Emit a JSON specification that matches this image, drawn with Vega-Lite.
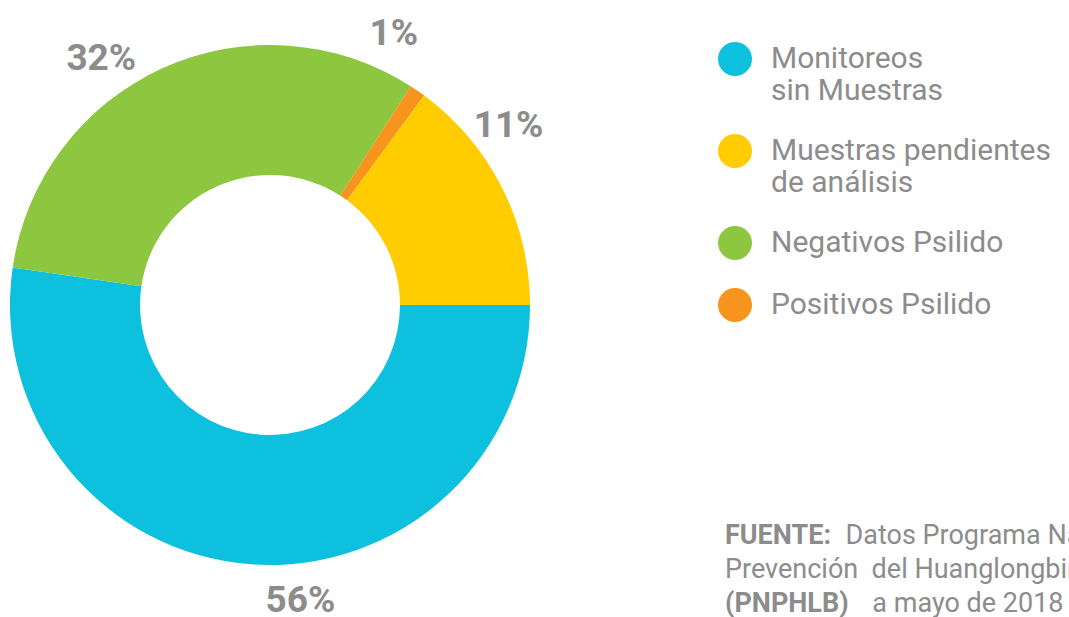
{
  "$schema": "https://vega.github.io/schema/vega-lite/v6.json",
  "width": 540,
  "height": 610,
  "autosize": "none",
  "padding": {"left": 0, "top": 0, "right": 529, "bottom": 7},
  "background": "white",
  "config": {"view": {"stroke": null}},
  "data": {
    "values": [
      {"categoria": "Monitoreos|sin Muestras", "valor": 52.3, "etiqueta": "56%", "orden": 1},
      {"categoria": "Negativos Psilido", "valor": 31.8, "etiqueta": "32%", "orden": 2},
      {"categoria": "Positivos Psilido", "valor": 1.0, "etiqueta": "1%", "orden": 3},
      {"categoria": "Muestras pendientes|de análisis", "valor": 14.9, "etiqueta": "11%", "orden": 4}
    ]
  },
  "title": {
    "text": ["FUENTE:", "\u200b", "(PNPHLB)"],
    "subtitle": ["\u200b\u00a0\u00a0\u00a0\u00a0\u00a0\u00a0\u00a0\u00a0\u00a0\u00a0\u00a0\u00a0\u00a0\u00a0\u00a0\u00a0\u00a0\u00a0Datos Programa Nacional de", "Prevención\u00a0 del Huanglongbing", "\u200b\u00a0\u00a0\u00a0\u00a0\u00a0\u00a0\u00a0\u00a0\u00a0\u00a0\u00a0\u00a0\u00a0\u00a0\u00a0\u00a0\u00a0\u00a0\u00a0\u00a0\u00a0\u00a0a mayo de 2018"],
    "orient": "bottom",
    "anchor": "start",
    "frame": "group",
    "align": "left",
    "baseline": "top",
    "offset": 0,
    "dx": 725,
    "dy": -96,
    "font": "Roboto",
    "fontSize": 27,
    "fontWeight": "bold",
    "color": "#8c8c8c",
    "lineHeight": 34,
    "subtitleFont": "Roboto",
    "subtitleFontSize": 27,
    "subtitleFontWeight": "normal",
    "subtitleColor": "#8c8c8c",
    "subtitleLineHeight": 34,
    "subtitlePadding": -95
  },
  "resolve": {"scale": {"theta": "independent"}},
  "layer": [
    {
      "mark": {"type": "arc", "outerRadius": 260, "innerRadius": 130},
      "encoding": {
        "theta": {"field": "valor", "type": "quantitative", "stack": true, "scale": {"range": [1.5707963, 7.8539816]}},
        "order": {"field": "orden", "type": "quantitative"},
        "color": {
          "field": "categoria",
          "type": "nominal",
          "scale": {
            "domain": ["Monitoreos|sin Muestras", "Muestras pendientes|de análisis", "Negativos Psilido", "Positivos Psilido"],
            "range": ["#0cc0de", "#ffcc00", "#8dc63f", "#f7941d"]
          },
          "legend": {
            "orient": "none",
            "legendX": 718,
            "legendY": 42,
            "title": null,
            "padding": 0,
            "symbolType": "circle",
            "symbolSize": 1156,
            "symbolStrokeWidth": 0,
            "symbolOpacity": 1,
            "labelFont": "Roboto",
            "labelFontSize": 30,
            "labelColor": "#8c8c8c",
            "labelOffset": 19,
            "labelLimit": 0,
            "labelExpr": "split(datum.label, '|')",
            "rowPadding": 28
          }
        }
      }
    },
    {
      "mark": {"type": "text", "radius": 298, "font": "Roboto", "fontWeight": "bold", "fontSize": 37, "color": "#8c8c8c", "align": "center", "baseline": "middle"},
      "encoding": {
        "theta": {"field": "valor", "type": "quantitative", "stack": true, "scale": {"range": [1.3962634, 7.6794487]}},
        "order": {"field": "orden", "type": "quantitative"},
        "text": {"field": "etiqueta"}
      }
    }
  ]
}
